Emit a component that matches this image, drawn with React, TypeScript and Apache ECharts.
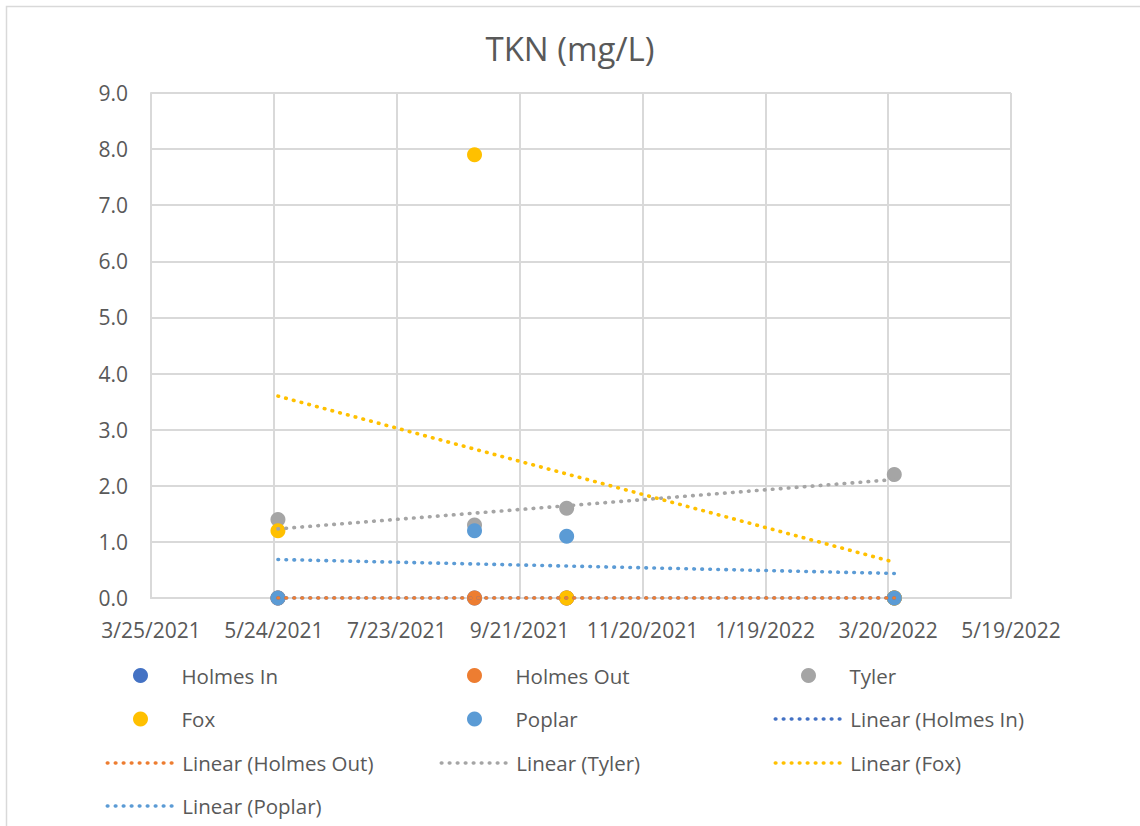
import React, { useEffect, useRef } from "react";
import * as echarts from "echarts";

// ---- data ----
const seriesNames = ["Holmes In", "Holmes Out", "Tyler", "Fox", "Poplar"];
const seriesColors = ["#4472C4", "#ED7D31", "#A5A5A5", "#FFC000", "#5B9BD5"];
const sampleDates = ["2021-05-26", "2021-08-30", "2021-10-14", "2022-03-23"];
const holmesIn = [0, 0, 0, 0];
const holmesOut = [0, 0, 0, 0];
const tyler = [1.4, 1.3, 1.6, 2.2];
const fox = [1.2, 7.9, 0, 0];
const poplar = [0, 1.2, 1.1, 0];
const xAxisStart = "2021-03-25";
const xAxisEnd = "2022-05-19";
const xAxisStepDays = 60;
const yMin = 0;
const yMax = 9;
const yStep = 1;
const titleText = "TKN (mg/L)";

const allValues = [holmesIn, holmesOut, tyler, fox, poplar];

const EXCEL_EPOCH = Date.UTC(1899, 11, 30);
function toSerial(s: string): number {
  const [y, m, d] = s.split("-").map(Number);
  return Math.round((Date.UTC(y, m - 1, d) - EXCEL_EPOCH) / 86400000);
}
function fromSerial(v: number): string {
  const dt = new Date(EXCEL_EPOCH + Math.round(v) * 86400000);
  return `${dt.getUTCMonth() + 1}/${dt.getUTCDate()}/${dt.getUTCFullYear()}`;
}

function linearFit(xs: number[], ys: number[]) {
  const n = xs.length;
  const mx = xs.reduce((a, b) => a + b, 0) / n;
  const my = ys.reduce((a, b) => a + b, 0) / n;
  let sxy = 0;
  let sxx = 0;
  for (let i = 0; i < n; i++) {
    sxy += (xs[i] - mx) * (ys[i] - my);
    sxx += (xs[i] - mx) * (xs[i] - mx);
  }
  const slope = sxx === 0 ? 0 : sxy / sxx;
  const x0 = Math.min(...xs);
  const x1 = Math.max(...xs);
  return [
    [x0, my + slope * (x0 - mx)],
    [x1, my + slope * (x1 - mx)],
  ];
}

const FONT = "'Open Sans', 'Noto Sans', sans-serif";
const TEXT_COLOR = "#595959";
const GRID_COLOR = "#D9D9D9";
const DOT_DASH = [0.6, 7.4];

export default function App() {
  const ref = useRef<HTMLDivElement>(null);

  useEffect(() => {
    if (!ref.current) return;
    const chart = echarts.init(ref.current, undefined, { renderer: "svg" });
    const xs = sampleDates.map(toSerial);

    const scatterSeries = seriesNames.map((name, i) => ({
      name,
      type: "scatter",
      symbol: "circle",
      symbolSize: 15,
      itemStyle: { color: seriesColors[i], opacity: 1 },
      emphasis: { disabled: true },
      data: xs.map((x, j) => [x, allValues[i][j]]),
      z: 2,
    }));

    const trendSeries = seriesNames.map((name, i) => ({
      name: `Linear (${name})`,
      type: "line",
      symbol: "none",
      showSymbol: false,
      lineStyle: {
        color: seriesColors[i],
        width: 3.6,
        type: DOT_DASH,
        cap: "round",
      },
      itemStyle: { color: seriesColors[i] },
      emphasis: { disabled: true },
      data: linearFit(xs, allValues[i]),
      z: 3,
    }));

    const legendNames = [...seriesNames, ...seriesNames.map((n) => `Linear (${n})`)];
    const colLefts = [105.5, 439.5, 773.5];
    const rowCenters = [677, 720.5, 764.5, 807.5];
    const legends = legendNames.map((name, i) => {
      const isTrend = i >= seriesNames.length;
      return {
        data: isTrend
          ? [{ name, itemStyle: { opacity: 0, color: "rgba(0,0,0,0)", borderWidth: 0 } }]
          : [name],
        orient: "horizontal",
        left: colLefts[i % 3] + (isTrend ? 0 : 27.5),
        top: rowCenters[Math.floor(i / 3)] - 12,
        padding: 0,
        itemWidth: isTrend ? 70 : 72,
        itemHeight: 15,
        itemGap: 0,
        selectedMode: false,
        textStyle: { color: TEXT_COLOR, fontSize: 20.5, fontFamily: FONT },
        lineStyle: { width: 3.6, type: DOT_DASH, cap: "round" },
      };
    });

    chart.setOption({
      animation: false,
      backgroundColor: "#ffffff",
      textStyle: { fontFamily: FONT },
      title: {
        text: titleText,
        left: "center",
        top: 27,
        padding: [5, 0, 5, 8],
        textStyle: {
          color: TEXT_COLOR,
          fontSize: 33,
          fontWeight: "normal",
          fontFamily: FONT,
        },
      },
      graphic: [
        {
          type: "rect",
          shape: { x: 6.5, y: 6.5, width: 1200, height: 900 },
          style: { fill: "none", stroke: GRID_COLOR, lineWidth: 1.5 },
          silent: true,
        },
      ],
      legend: legends,
      grid: { left: 151, top: 93, width: 860, height: 505, containLabel: false },
      xAxis: {
        type: "value",
        min: toSerial(xAxisStart),
        max: toSerial(xAxisEnd),
        interval: xAxisStepDays,
        axisLine: { show: true, lineStyle: { color: GRID_COLOR, width: 2 } },
        axisTick: { show: false },
        splitLine: { show: true, lineStyle: { color: GRID_COLOR, width: 2 } },
        axisLabel: {
          color: TEXT_COLOR,
          fontSize: 21,
          fontFamily: FONT,
          margin: 21,
          formatter: (v: number) => fromSerial(v),
        },
      },
      yAxis: {
        type: "value",
        min: yMin,
        max: yMax,
        interval: yStep,
        axisLine: { show: true, lineStyle: { color: GRID_COLOR, width: 2 } },
        axisTick: { show: false },
        splitLine: { show: true, lineStyle: { color: GRID_COLOR, width: 2 } },
        axisLabel: {
          color: TEXT_COLOR,
          fontSize: 21,
          fontFamily: FONT,
          margin: 23,
          formatter: (v: number) => v.toFixed(1),
        },
      },
      series: [...scatterSeries, ...trendSeries],
    });

    return () => chart.dispose();
  }, []);

  return (
    <div
      ref={ref}
      style={{ position: "fixed", left: 0, top: 0, width: 1140, height: 826 }}
    />
  );
}
